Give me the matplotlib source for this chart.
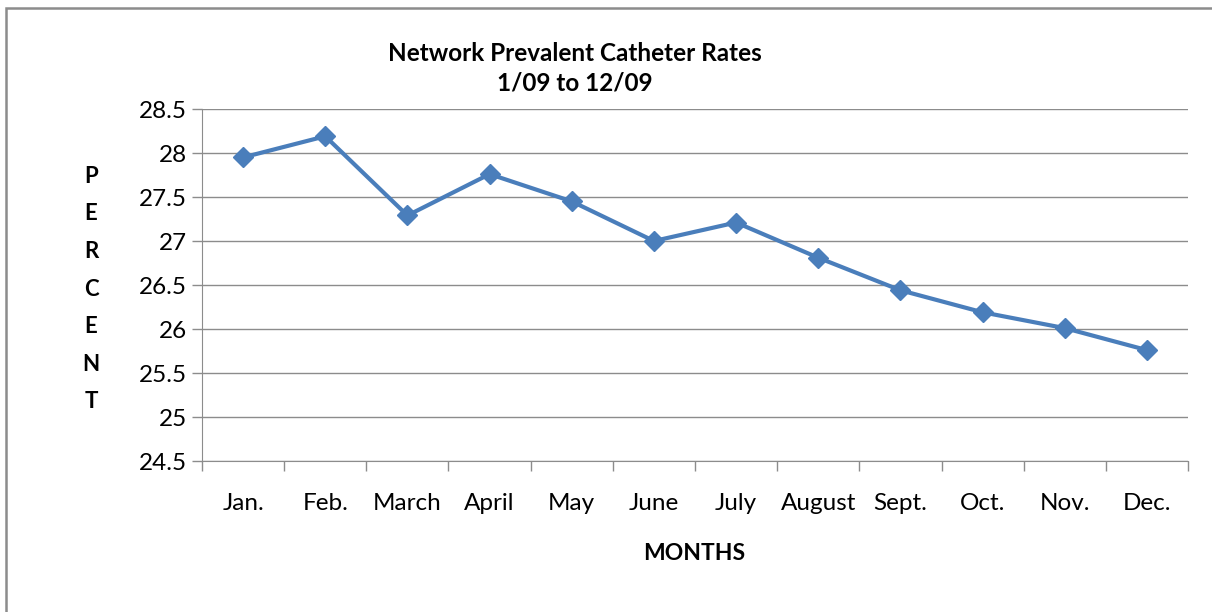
import matplotlib.pyplot as plt
from matplotlib.patches import Rectangle

# Monthly catheter rates, 2009
months = ['Jan.', 'Feb.', 'March', 'April', 'May', 'June',
          'July', 'August', 'Sept.', 'Oct.', 'Nov.', 'Dec.']
rates = [27.95, 28.19, 27.29, 27.76, 27.45, 27.0,
         27.21, 26.81, 26.44, 26.19, 26.01, 25.76]
yticks = [24.5, 25, 25.5, 26, 26.5, 27, 27.5, 28, 28.5]

plt.rcParams['font.family'] = ['Lato', 'DejaVu Sans']

W, H = 1212, 612
fig = plt.figure(figsize=(W / 100, H / 100), dpi=100)

# outer chart frame (only top and left edges fall inside the image)
fig.patches.append(Rectangle((6 / W, -0.2), 1.2, 0.2 + (H - 8) / H, transform=fig.transFigure,
                             fill=False, edgecolor='#8c8c8c', linewidth=1.8))

ax = fig.add_axes([202 / W, 1 - 461 / H, (1188 - 202) / W, (461 - 109) / H])
x = list(range(len(months)))
ax.plot(x, rates, color='#4A7EBB', linewidth=3, marker='D', markersize=10,
        markeredgecolor='#4A7EBB')

ax.set_xlim(-0.5, len(months) - 0.5)
ax.set_ylim(24.5, 28.5)
ax.set_yticks(yticks)
ax.set_yticklabels([f'{v:g}' for v in yticks], fontsize=17.5)
ax.set_xticks(x)
ax.set_xticklabels(months, fontsize=17.5)
ax.set_xticks([i - 0.5 for i in range(len(months) + 1)], minor=True)
ax.tick_params(axis='x', which='major', length=0, pad=23)
ax.tick_params(axis='x', which='minor', length=7, color='#8c8c8c', width=1)
ax.tick_params(axis='y', length=7, color='#8c8c8c', width=1, pad=4)

ax.grid(axis='y', color='#8c8c8c', linewidth=1)
ax.set_axisbelow(True)
for s in ['top', 'right']:
    ax.spines[s].set_visible(False)
ax.spines['left'].set_color('#8c8c8c')
ax.spines['bottom'].set_color('#8c8c8c')

fig.text(575 / W, 1 - 68 / H, 'Network Prevalent Catheter Rates\n1/09 to 12/09',
         ha='center', va='center', fontsize=17.5, fontweight='bold', linespacing=1.35)
fig.text(91 / W, 1 - 289 / H, '\n'.join('PERCENT'), ha='center', va='center',
         fontsize=16, fontweight='bold', linespacing=1.98)
fig.text(694 / W, 1 - 553 / H, 'MONTHS', ha='center', va='center',
         fontsize=16.5, fontweight='bold')

plt.savefig('out.png', dpi=100)
